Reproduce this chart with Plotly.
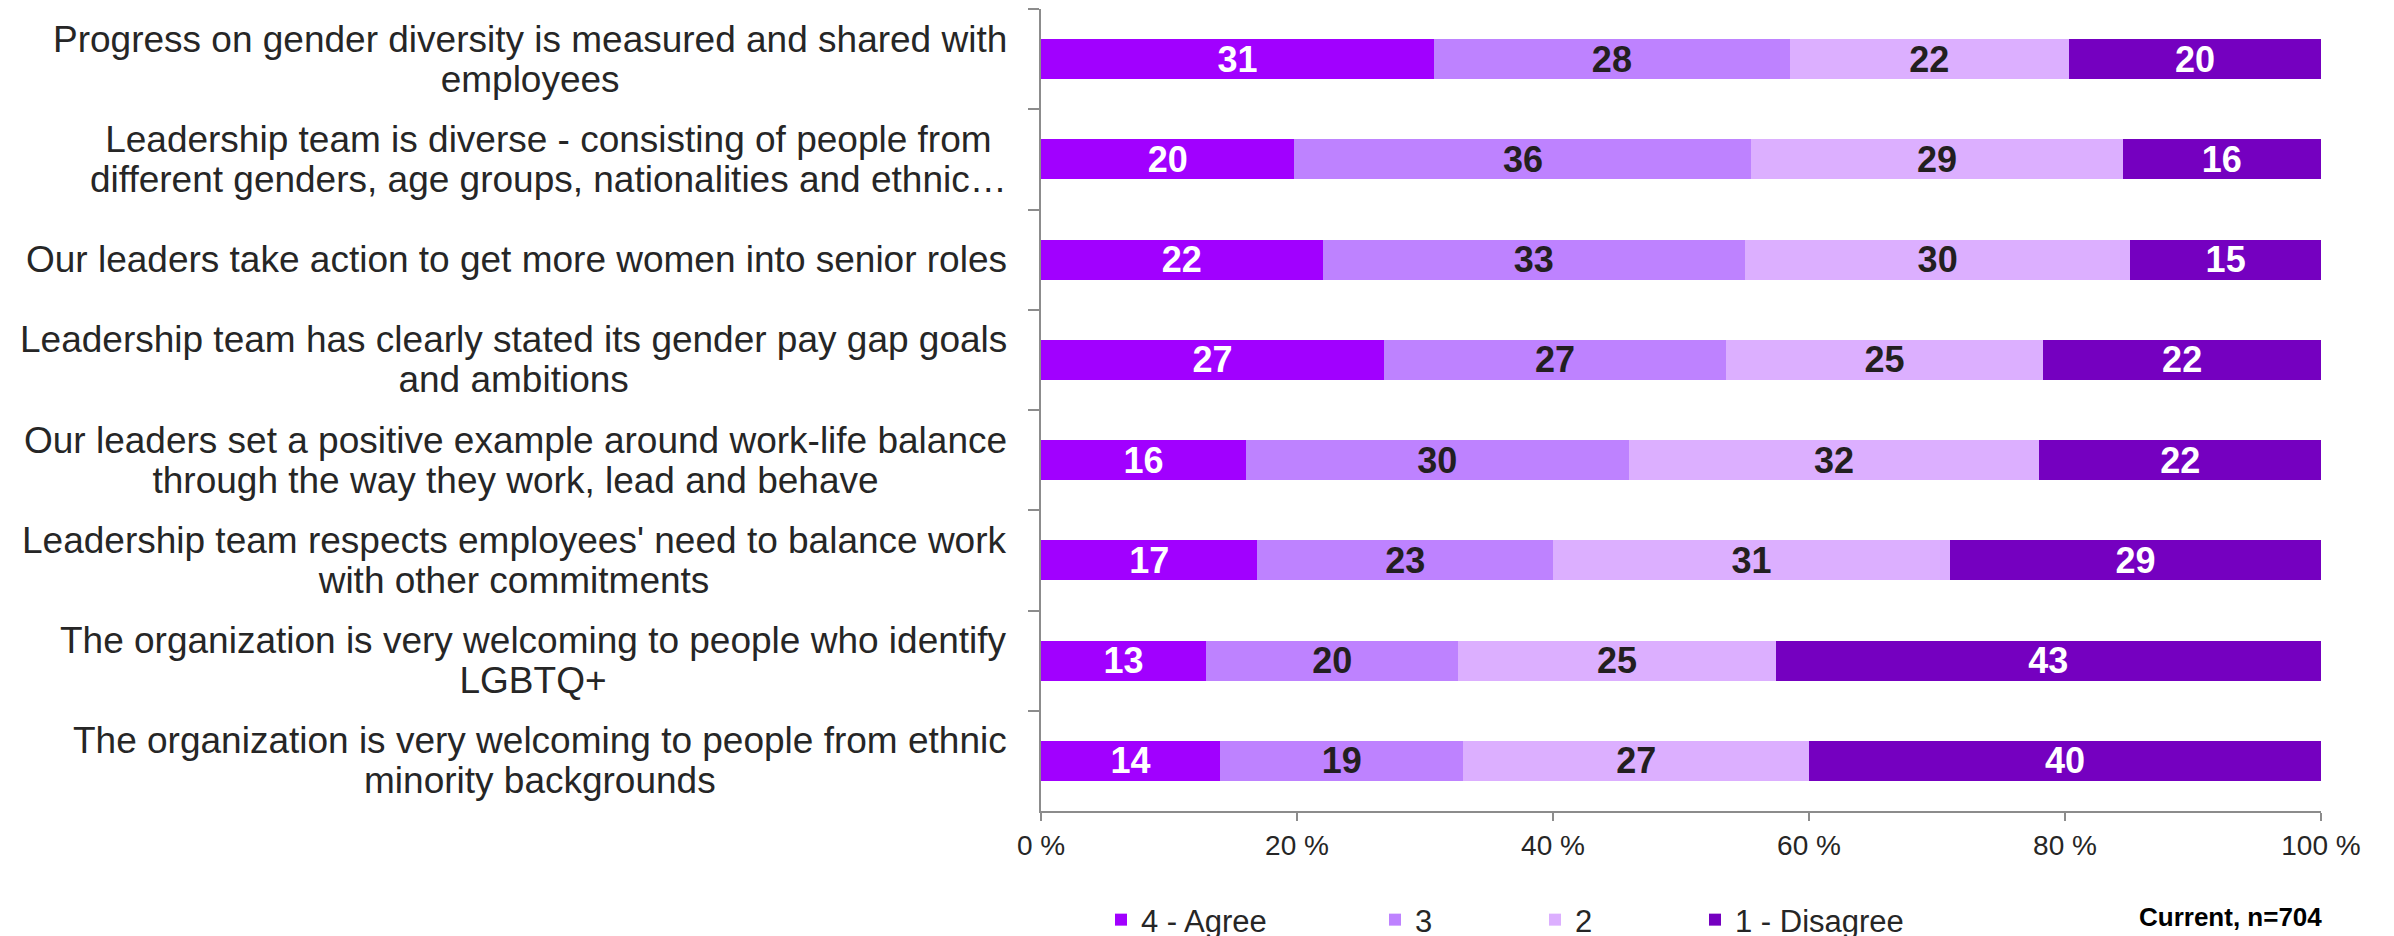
import plotly.graph_objects as go

categories = [
    "Progress on gender diversity is measured and shared with<br>employees",
    "Leadership team is diverse - consisting of people from<br>different genders, age groups, nationalities and ethnic…",
    "Our leaders take action to get more women into senior roles",
    "Leadership team has clearly stated its gender pay gap goals<br>and ambitions",
    "Our leaders set a positive example around work-life balance<br>through the way they work, lead and behave",
    "Leadership team respects employees' need to balance work<br>with other commitments",
    "The organization is very welcoming to people who identify<br>LGBTQ+",
    "The organization is very welcoming to people from ethnic<br>minority backgrounds",
]

agree_4 = [30.7, 19.8, 22.0, 26.8, 16.0, 16.9, 12.9, 14.0]
score_3 = [27.8, 35.7, 33.0, 26.7, 29.9, 23.1, 19.7, 19.0]
score_2 = [21.8, 29.0, 30.1, 24.8, 32.1, 31.0, 24.8, 27.0]
disagree_1 = [19.7, 15.5, 14.9, 21.7, 22.0, 29.0, 42.6, 40.0]

series_names = ["4 - Agree", "3", "2", "1 - Disagree"]
series_values = [agree_4, score_3, score_2, disagree_1]
series_colors = ["#A100FF", "#BE82FF", "#DCAFFF", "#7500C0"]
text_colors = ["#FFFFFF", "#231F20", "#231F20", "#FFFFFF"]

x_ticks = [0, 20, 40, 60, 80, 100]
x_ticktext = ["0 %", "20 %", "40 %", "60 %", "80 %", "100 %"]
note_text = "Current, n=704"

FONT = "Liberation Sans, Arial, sans-serif"
AXIS_GRAY = "#8C8C8C"

W, H = 2394, 936
ML, MR, MT, MB = 1041, 73, 9, 125
plot_w = W - ML - MR
plot_h = H - MT - MB

legend_text_starts = [1141, 1415, 1575, 1735]
legend_keys = ["legend", "legend2", "legend3", "legend4"]

fig = go.Figure()
for i, (name, vals, col, tcol) in enumerate(zip(series_names, series_values, series_colors, text_colors)):
    fig.add_trace(go.Bar(
        y=categories, x=vals, orientation="h", name=name,
        marker=dict(color=col, line=dict(width=0)),
        texttemplate="<b>%{x:.0f}</b>",
        textposition="inside", insidetextanchor="middle",
        constraintext="none", textangle=0,
        textfont=dict(family=FONT, size=36, color=tcol),
        legend=legend_keys[i],
        hoverinfo="x+y+name",
    ))

legend_y = (MT + plot_h - 920) / plot_h
layout_legends = {}
for i, key in enumerate(legend_keys):
    layout_legends[key] = dict(
        orientation="h",
        x=(legend_text_starts[i] - 40 - ML) / plot_w,
        y=legend_y,
        xanchor="left", yanchor="middle",
        font=dict(family=FONT, size=31, color="#262626"),
        bgcolor="rgba(0,0,0,0)",
    )

LABEL_SIZE = 37
annotations = []
for cat in categories:
    lines = cat.split("<br>")
    txt = "<br>".join(f"<span style='font-size:{LABEL_SIZE}px'>{ln}</span>" for ln in lines)
    annotations.append(dict(
        xref="paper", yref="y", x=0, y=cat, xanchor="right", yanchor="middle",
        xshift=-32, text=txt, showarrow=False, align="center",
        font=dict(family=FONT, size=31, color="#262626"),
    ))
annotations.append(dict(
    xref="paper", yref="paper", x=1, y=(MT + plot_h - 917) / plot_h,
    xanchor="right", yanchor="middle", xshift=3,
    text="<b>" + note_text + "</b>", showarrow=False,
    font=dict(family=FONT, size=26, color="#000000"),
))

fig.update_layout(
    width=W, height=H,
    margin=dict(l=ML, r=MR, t=MT, b=MB, autoexpand=False),
    barmode="stack", bargap=0.6,
    plot_bgcolor="white", paper_bgcolor="white",
    showlegend=True,
    annotations=annotations,
    xaxis=dict(
        range=[0, 100], tickmode="array", tickvals=x_ticks, ticktext=x_ticktext,
        ticks="outside", ticklen=8, tickwidth=2, tickcolor=AXIS_GRAY,
        showline=True, linecolor=AXIS_GRAY, linewidth=2,
        showgrid=False, zeroline=False,
        tickfont=dict(family=FONT, size=28, color="#262626"),
    ),
    yaxis=dict(
        type="category", autorange="reversed", showticklabels=False,
        ticks="outside", tickson="boundaries", ticklen=11, tickwidth=2, tickcolor=AXIS_GRAY,
        showline=True, linecolor=AXIS_GRAY, linewidth=2,
        showgrid=False, zeroline=False,
    ),
    **layout_legends,
)

fig.write_html("out.html")
